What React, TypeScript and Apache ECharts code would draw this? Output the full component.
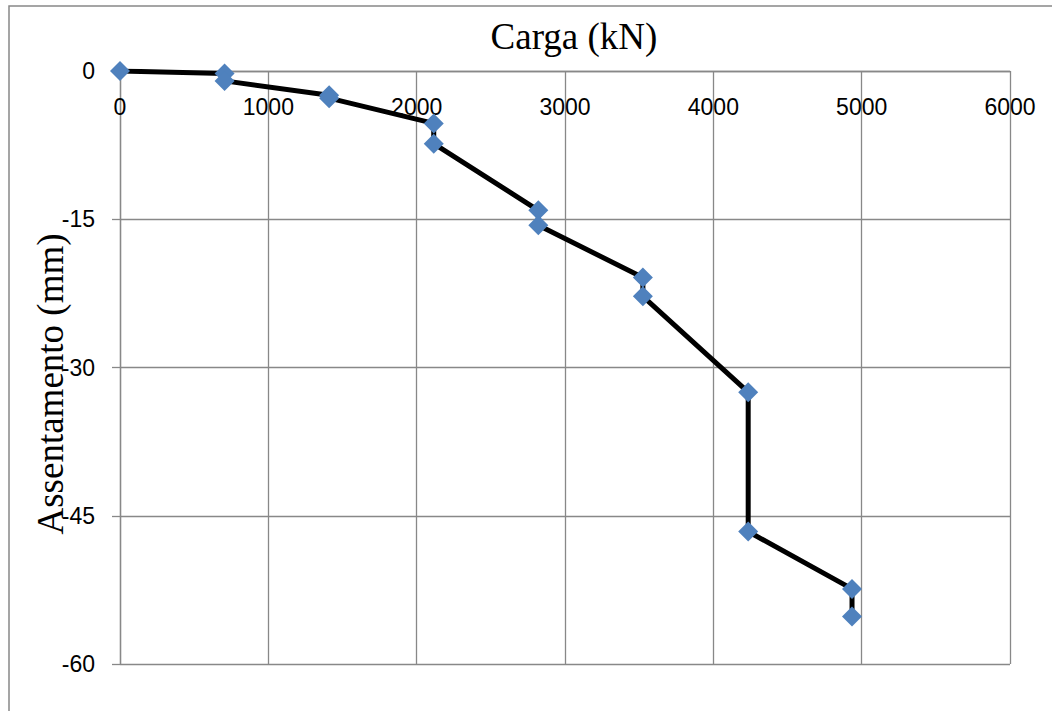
import React, { useEffect, useRef } from "react";
import * as echarts from "echarts";

const cargaKN = [0, 705, 705, 1410, 1410, 2115, 2115, 2820, 2820, 3525, 3525, 4235, 4235, 4935, 4935];
const assentamentoMM = [0, -0.25, -1.0, -2.45, -2.75, -5.3, -7.35, -14.1, -15.6, -20.9, -22.8, -32.5, -46.6, -52.4, -55.2];
const xTicks = { min: 0, max: 6000, interval: 1000 };
const yTicks = { min: -60, max: 0, interval: 15 };
const titleText = "Carga (kN)";
const yName = "Assentamento (mm)";

export default function App() {
  const ref = useRef<HTMLDivElement>(null);
  useEffect(() => {
    if (!ref.current) return;
    const chart = echarts.init(ref.current, undefined, { renderer: "svg" });
    const grid = "#888888";
    const data = cargaKN.map((x, i) => [x, assentamentoMM[i]]);
    chart.setOption({
      animation: false,
      backgroundColor: "#ffffff",
      grid: { left: 120, right: 42, top: 71, bottom: 47, containLabel: false },
      xAxis: {
        type: "value",
        position: "top",
        min: xTicks.min,
        max: xTicks.max,
        interval: xTicks.interval,
        axisLine: { show: true, onZero: false, lineStyle: { color: grid, width: 1.3 } },
        axisTick: { show: false },
        axisLabel: {
          inside: true,
          margin: 24,
          color: "#000",
          fontFamily: "Liberation Sans",
          fontSize: 23,
          formatter: (v: number) => String(v),
        },
        splitLine: { show: true, lineStyle: { color: grid, width: 1.3 } },
      },
      yAxis: {
        type: "value",
        min: yTicks.min,
        max: yTicks.max,
        interval: yTicks.interval,
        axisLine: { show: true, onZero: false, lineStyle: { color: grid, width: 1.3 } },
        axisTick: { show: true, length: 8, lineStyle: { color: grid, width: 1.3 } },
        axisLabel: {
          margin: 25,
          color: "#000",
          fontFamily: "Liberation Sans",
          fontSize: 23,
          formatter: (v: number) => String(v),
        },
        splitLine: { show: true, lineStyle: { color: grid, width: 1.3 } },
      },
      series: [
        {
          type: "line",
          data,
          symbol: "diamond",
          symbolSize: 20,
          itemStyle: { color: "#4F81BD" },
          lineStyle: { color: "#000", width: 5 },
          z: 3,
        },
      ],
      graphic: [
        {
          type: "rect",
          shape: { x: 9, y: 6, width: 1200, height: 900 },
          style: { fill: "none", stroke: grid, lineWidth: 1.5 },
          silent: true,
          z: -1,
        },
        {
          type: "text",
          x: 574,
          y: 36,
          style: {
            text: titleText,
            font: "37px 'Liberation Serif'",
            fill: "#000",
            textAlign: "center",
            textVerticalAlign: "middle",
          },
        },
        {
          type: "text",
          x: 50,
          y: 384,
          rotation: Math.PI / 2,
          style: {
            text: yName,
            font: "37px 'Liberation Serif'",
            fill: "#000",
            textAlign: "center",
            textVerticalAlign: "middle",
          },
        },
      ],
    });
    return () => chart.dispose();
  }, []);
  return (
    <div
      ref={ref}
      style={{ position: "fixed", left: 0, top: 0, width: 1052, height: 711 }}
    />
  );
}
